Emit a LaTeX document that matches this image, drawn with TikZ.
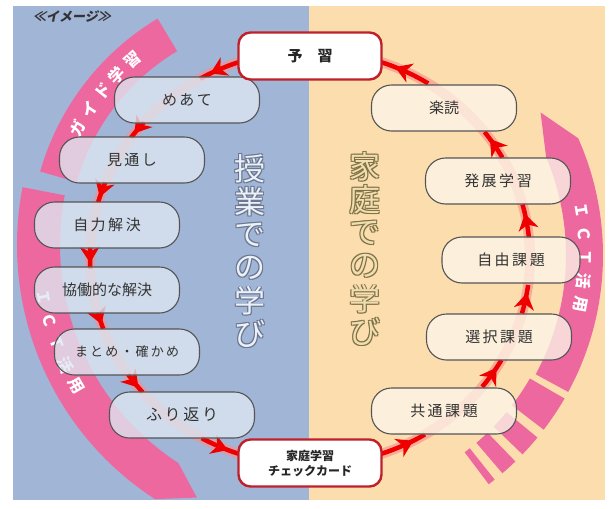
\documentclass[tikz,border=0pt]{standalone}
\usepackage{fontspec}
\setmainfont{Noto Sans CJK JP}
\newfontfamily\slantfont[FakeSlant=0.2]{Noto Sans CJK JP}
\usetikzlibrary{arrows.meta,calc,decorations.markings}

\definecolor{lessonbg}{RGB}{161,181,214}
\definecolor{homebg}{RGB}{252,221,173}
\definecolor{bandpink}{RGB}{238,104,160}
\definecolor{lessonfill}{RGB}{222,231,242}
\definecolor{homefill}{RGB}{252,245,232}
\definecolor{boxline}{RGB}{85,85,85}
\definecolor{keyline}{RGB}{192,32,42}
\definecolor{flowred}{RGB}{238,0,0}
\definecolor{ringpink}{RGB}{250,140,140}
\definecolor{lessonglyph}{RGB}{236,241,249}
\definecolor{lessonedge}{RGB}{105,118,142}
\definecolor{homeglyph}{RGB}{239,222,175}
\definecolor{homeedge}{RGB}{128,112,70}

\tikzset{
  stage/.style={draw=boxline, line width=1.1pt, rounded corners=20pt,
    minimum width=145pt, minimum height=46pt, fill opacity=0.78,
    text opacity=1, text=black!80, font=\fontsize{15}{18}\selectfont},
  lesson/.style={stage, fill=lessonfill},
  home/.style={stage, fill=homefill},
  key/.style={draw=keyline, line width=2.4pt, fill=white, rounded corners=12pt,
    minimum width=143pt, minimum height=47pt, align=center,
    text=black!85, font=\bfseries\fontsize{15}{18}\selectfont},
  flow/.style={flowred, line width=4.5pt,
    decoration={markings, mark=at position 0.72 with {\arrow[flowred]{Stealth[length=16pt,width=20pt,inset=5pt]}}},
    postaction={decorate}},
  band/.style={fill=bandpink},
  bandtext/.style={text=white, font=\bfseries\fontsize{16}{16}\selectfont},
  bigchar/.style={font=\fontsize{31}{31}\selectfont},
}

\begin{document}
\begin{tikzpicture}[x=1pt, y=-1pt]
\useasboundingbox (0,0) rectangle (611,509);
\fill[white] (0,0) rectangle (611,509);
\fill[lessonbg] (13,6) rectangle (309,500);
\fill[homebg] (309,6) rectangle (605,500);

\coordinate (ring) at (310,258);
\coordinate (guide-c) at (293,244);
\coordinate (ictl-c) at (320,245);
\coordinate (ictr-c) at (316,255);

% pink bands
\fill[band] (guide-c) ++(196:263) arc[start angle=196, end angle=239, radius=263]
  -- ++(239:-38) arc[start angle=239, end angle=196, radius=225] -- cycle;
\fill[band] (ictl-c) ++(191:303) arc[start angle=191, end angle=123, radius=303]
  -- ($(ictl-c)+(116:281)$) -- ($(ictl-c)+(123:260)$)
  arc[start angle=123, end angle=191, radius=260] -- cycle;
\fill[band] (ictr-c) ++(-24:287) arc[start angle=-24, end angle=28.5, radius=287]
  -- ++(28.5:-37) arc[start angle=28.5, end angle=-23, radius=250]
  -- ($(ictr-c)+(-32.4:266)$) -- cycle;
\foreach \a/\b in {30/37.5, 39.5/44, 46/49.5, 51.5/53}
  \fill[band] (ictr-c) ++(\a:287) arc[start angle=\a, end angle=\b, radius=287]
    -- ++(\b:-40) arc[start angle=\b, end angle=\a, radius=247] -- cycle;

% band labels
\foreach \c [count=\i] in {ガ,イ,ド,学,習}
  \node[bandtext, rotate={-90-(203+5.2*\i)}] (guide-\i) at ($(guide-c)+(203+5.2*\i:244)$) {\c};
\foreach \c [count=\i] in {Ｉ,Ｃ,Ｔ,活,用}
  \node[bandtext, rotate={90-(174-4.8*\i)}] (ictl-\i) at ($(ictl-c)+(174-4.8*\i:281)$) {\c};
\foreach \c [count=\i] in {Ｉ,Ｃ,Ｔ,活,用}
  \node[bandtext, rotate={-90-(-14.5+5*\i)}] (ictr-\i) at ($(ictr-c)+(-14.5+5*\i:269)$) {\c};

% big column texts
\foreach \c [count=\i] in {授,業,で,の,学,び} {
  \foreach \dx/\dy [count=\k] in {1/1,-0.8/-0.8,1/-0.8,-0.8/1}
    \node[bigchar, text=lessonedge] (lesson-edge-\i-\k) at (250+\dx,136+33*\i+\dy) {\c};
  \node[bigchar, text=lessonglyph] (lesson-\i) at (250,136+33*\i) {\c};
}
\foreach \c [count=\i] in {家,庭,で,の,学,び} {
  \foreach \dx/\dy [count=\k] in {1/1,-0.8/-0.8,1/-0.8,-0.8/1}
    \node[bigchar, text=homeedge] (home-edge-\i-\k) at (365+\dx,134+33*\i+\dy) {\c};
  \node[bigchar, text=homeglyph] (home-\i) at (365,134+33*\i) {\c};
}

% cycle
\draw[ringpink, line width=10pt, opacity=0.6] (ring) ellipse[x radius=220, y radius=207];
\foreach \a/\b in {251/240, 221/215.5, 201.5/195.5, 183/177, 164.8/160, 145.8/139.5,
    119.5/109, 71/58.5, 38.5/29.5, 15.5/7.5, -5.5/-15, -29/-37.5, -57.5/-71}
  \draw[flow] (ring) ++(\a:220 and 207) arc[start angle=\a, end angle=\b, x radius=220, y radius=207];

% steps in class
\node[lesson] (meate) at (187,100) {め\,あ\,て};
\node[lesson] (mitoshi) at (132,160) {見\,通\,し};
\node[lesson] (jiriki) at (107,225) {自\,力\,解\,決};
\node[lesson] (kyodo) at (107,290) {協働的な解決};
\node[lesson, font=\fontsize{13}{16}\selectfont] (matome) at (127,352) {ま\,と\,め\,・\,確\,か\,め};
\node[lesson, font=\fontsize{16}{18}\selectfont] (furikaeri) at (182,415) {ふ\,り\,返\,り};

% steps at home
\node[home] (rakudoku) at (444,108) {楽読};
\node[home] (hatten) at (498,181) {発\,展\,学\,習};
\node[home, minimum width=138pt] (jiyu) at (511,260) {自\,由\,課\,題};
\node[home] (sentaku) at (499,337) {選\,択\,課\,題};
\node[home] (kyotsu) at (444,411) {共\,通\,課\,題};

\node[key] (yoshu) at (310,56) {予　習};
\node[key, font=\bfseries\fontsize{12}{15}\selectfont] (card) at (310,463) {家庭学習\\チェックカード};

\node[font=\slantfont\bfseries\fontsize{13}{13}\selectfont, text=black!80] (title) at (72,17) {≪イメージ≫};
\end{tikzpicture}
\end{document}
